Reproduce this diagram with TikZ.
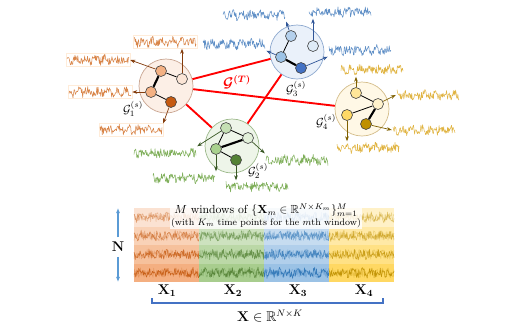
\documentclass[tikz,border=0pt]{standalone}
\usepackage{amssymb}
\usepackage{tikz}
\usetikzlibrary{arrows.meta,positioning,calc}
\definecolor{orpale}{HTML}{FBE5D6}
\definecolor{orlight}{HTML}{F4B183}
\definecolor{ordark}{HTML}{C55A11}
\definecolor{ortrace}{HTML}{D9864A}
\definecolor{orcirc}{HTML}{FCEFE6}
\definecolor{orring}{HTML}{C9A591}
\definecolor{orarrow}{HTML}{843C0C}
\definecolor{blpale}{HTML}{DEEBF7}
\definecolor{blmid}{HTML}{B4D0EC}
\definecolor{bllight}{HTML}{9DC3E6}
\definecolor{bldark}{HTML}{4472C4}
\definecolor{bltrace}{HTML}{5F8FC6}
\definecolor{blcirc}{HTML}{EAF1FA}
\definecolor{blring}{HTML}{8EA9CF}
\definecolor{blarrow}{HTML}{2F5597}
\definecolor{grpale}{HTML}{E2F0D9}
\definecolor{grmid}{HTML}{C5E0B4}
\definecolor{grlight}{HTML}{A9D18E}
\definecolor{grdark}{HTML}{548235}
\definecolor{grtrace}{HTML}{7FAF5A}
\definecolor{grcirc}{HTML}{EEF5E9}
\definecolor{grring}{HTML}{9CB98B}
\definecolor{grarrow}{HTML}{385723}
\definecolor{yepale}{HTML}{FFF2CC}
\definecolor{yemid}{HTML}{FFE699}
\definecolor{yelight}{HTML}{FFD966}
\definecolor{yedark}{HTML}{BF9000}
\definecolor{yetrace}{HTML}{E0B443}
\definecolor{yecirc}{HTML}{FFF8E6}
\definecolor{yering}{HTML}{D4BD8A}
\definecolor{yearrow}{HTML}{7F6000}
\definecolor{mor}{HTML}{ED7D31}
\definecolor{mgr}{HTML}{70AD47}
\definecolor{mbl}{HTML}{5B9BD5}
\definecolor{mye}{HTML}{FFC000}
\definecolor{mbldk}{HTML}{2E75B6}
\definecolor{nblue}{HTML}{5B9BD5}
\definecolor{brblue}{HTML}{4472C4}
\definecolor{tred}{HTML}{FF0000}

\begin{document}
\begin{tikzpicture}[x=0.03cm,y=-0.03cm,
  sgraph/.style={circle,minimum size=1.62cm,line width=0.6pt},
  vtx/.style={circle,draw=black!75,line width=0.5pt,minimum size=0.33cm,inner sep=0pt},
  thinedge/.style={line width=0.7pt},
  thickedge/.style={line width=1.8pt},
  tlink/.style={line width=1.6pt,color=tred},
  emit/.style={-{Stealth[length=1.5mm,width=1.1mm]},line width=0.6pt},
  sigbox/.style={rectangle,minimum width=1.92cm,minimum height=0.39cm,inner sep=0pt},
  trace/.style={line width=0.45pt,line join=round},
  glabel/.style={font=\normalsize,inner sep=0pt},
  xlab/.style={font=\large\boldmath},
  hdr/.style={fill=white,fill opacity=0.8,text opacity=1,align=center,inner sep=1pt},
  brk/.style={line width=0.9pt,color=brblue},
  narrow/.style={-{Latex[length=1.6mm]},line width=0.9pt,color=nblue}
]
\useasboundingbox (0,0) rectangle (514,327);
\pgfmathsetseed{11}

% signals around the spatial graphs
\foreach \nm/\cx/\cy in {o1/98/60,o2/165/42,o3/100/92,o4/131/130}{
  \node[sigbox,draw=orange!15] (\nm) at (\cx,\cy) {};
  \draw[trace,ortrace] plot[domain=-31:31,samples=110] ({\cx+\x},{\cy+4.3*rand+1.6*sin(37*\x)});
}
\foreach \nm/\cx/\cy in {b1/254/15,b2/340/12,b3/234/44,b4/360/50}{
  \node[sigbox] (\nm) at (\cx,\cy) {};
  \draw[trace,bltrace] plot[domain=-31:31,samples=110] ({\cx+\x},{\cy+4.3*rand+1.6*sin(37*\x)});
}
\foreach \nm/\cx/\cy in {y1/372/70,y2/428/95,y3/424/130,y4/368/148}{
  \node[sigbox] (\nm) at (\cx,\cy) {};
  \draw[trace,yetrace] plot[domain=-31:31,samples=110] ({\cx+\x},{\cy+4.3*rand+1.6*sin(37*\x)});
}
\foreach \nm/\cx/\cy in {g1/165/153,g2/184/178,g3/257/187,g4/297/160}{
  \node[sigbox] (\nm) at (\cx,\cy) {};
  \draw[trace,grtrace] plot[domain=-31:31,samples=110] ({\cx+\x},{\cy+4.3*rand+1.6*sin(37*\x)});
}

% spatial graphs
\node[sgraph,fill=orcirc,draw=orring] (gs1) at (166,86) {};
\node[sgraph,fill=grcirc,draw=grring] (gs2) at (232,146) {};
\node[sgraph,fill=blcirc,draw=blring] (gs3) at (297,52) {};
\node[sgraph,fill=yecirc,draw=yering] (gs4) at (362,109) {};

\node[vtx,fill=orlight] (n11) at (161,71) {};
\node[vtx,fill=orpale] (n12) at (182,79) {};
\node[vtx,fill=orlight] (n13) at (151,92) {};
\node[vtx,fill=ordark] (n14) at (171,102) {};
\draw[thinedge] (n11) -- (n12);
\draw[thickedge] (n11) -- (n13);
\draw[thinedge] (n13) -- (n14);
\draw[emit,orarrow] (n11) -- (o1.east);
\draw[emit,orarrow] (n12) -- (n12 |- o2.south);
\draw[emit,orarrow] (n13) -- (o3.east);
\draw[emit,orarrow] (n14) -- (o4.north east);

\node[vtx,fill=grmid] (n21) at (226,128) {};
\node[vtx,fill=grpale] (n22) at (248,138) {};
\node[vtx,fill=grlight] (n23) at (216,149) {};
\node[vtx,fill=grdark] (n24) at (236,160) {};
\draw[thinedge] (n21) -- (n22);
\draw[thinedge] (n21) -- (n23);
\draw[thickedge] (n23) -- (n22);
\draw[thinedge] (n23) -- (n24);
\draw[emit,grarrow] (n21) -- (g1.north east);
\draw[emit,grarrow] (n23) -- (n23 |- g2.north);
\draw[emit,grarrow] (n24) -- (n24 |- g3.north);
\draw[emit,grarrow] (n22) -- (g4.north west);

\node[vtx,fill=blmid] (n31) at (291,36) {};
\node[vtx,fill=blpale] (n32) at (313,46) {};
\node[vtx,fill=bllight] (n33) at (281,57) {};
\node[vtx,fill=bldark] (n34) at (301,68) {};
\draw[thinedge] (n31) -- (n33);
\draw[thickedge] (n33) -- (n34);
\draw[emit,blarrow] (n31) -- (b1.south east);
\draw[emit,blarrow] (n32) -- (n32 |- b2.south);
\draw[emit,blarrow] (n33) -- (b3.south east);
\draw[emit,blarrow] (n34) -- (b4.south west);

\node[vtx,fill=yemid] (n41) at (356,93) {};
\node[vtx,fill=yepale] (n42) at (378,104) {};
\node[vtx,fill=yelight] (n43) at (347,115) {};
\node[vtx,fill=yedark] (n44) at (366,124) {};
\draw[thinedge] (n41) -- (n42);
\draw[thinedge] (n42) -- (n43);
\draw[thickedge] (n42) -- (n44);
\draw[emit,yearrow] (n41) -- (n41 |- y1.south);
\draw[emit,yearrow] (n42) -- (y2.west);
\draw[emit,yearrow] (n44) -- (y3.west);
\draw[emit,yearrow] (n43) -- (n43 |- y4.north);

\node[glabel] (lab1) at (133,109) {$\mathcal{G}_1^{(s)}$};
\node[glabel] (lab2) at (258,171) {$\mathcal{G}_2^{(s)}$};
\node[glabel] (lab3) at (296,89) {$\mathcal{G}_3^{(s)}$};
\node[glabel] (lab4) at (326,122) {$\mathcal{G}_4^{(s)}$};

% temporal graph
\draw[tlink] (gs1) -- (gs3);
\draw[tlink] (gs1) -- (gs4);
\draw[tlink] (gs1) -- (gs2);
\draw[tlink] (gs2) -- (gs3);
\node[text=tred,font=\large\boldmath] (gt) at (237,82) {$\mathcal{G}^{(T)}$};

% windowed data matrix
\foreach \col/\dk [count=\i] in {mor/ordark,mgr/grdark,mbl/mbldk,mye/yedark}{
  \foreach \r in {0,...,3}{
    \pgfmathsetmacro\xa{134+(\i-1)*65}
    \pgfmathsetmacro\ya{208+\r*18.5}
    \pgfmathsetmacro\op{0.22+0.13*\r}
    \pgfmathsetmacro\opt{0.45+0.15*\r}
    \fill[\col,fill opacity=\op] (\xa,\ya) rectangle ++(65,18.5);
    \draw[trace,\dk,opacity=0.3] plot[domain=0:65,samples=110] ({\xa+\x},{\ya+9.25+5*rand});
    \draw[trace,\dk,opacity=\opt] plot[domain=0:65,samples=110] ({\xa+\x},{\ya+9.25+4.3*rand+1.5*sin(41*\x)});
  }
}
\node[minimum width=7.8cm,minimum height=2.22cm,inner sep=0pt] (mat) at (264,245) {};
\node[hdr] (hdr) at (266,216) {$M$ windows of $\{\mathbf{X}_m\in\mathbb{R}^{N\times K_m}\}_{m=1}^{M}$\\[-2pt]{\footnotesize (with $K_m$ time points for the $m$th window)}};

\node[font=\large\bfseries,inner sep=4pt] (nlab) at (118,247) {N};
\draw[narrow] (nlab.north) -- (nlab |- mat.north);
\draw[narrow] (nlab.south) -- (nlab |- mat.south);

\node[xlab] (xl1) at (167,291) {$\mathbf{X}_1$};
\node[xlab] (xl2) at (233,291) {$\mathbf{X}_2$};
\node[xlab] (xl3) at (298,291) {$\mathbf{X}_3$};
\node[xlab] (xl4) at (364,291) {$\mathbf{X}_4$};
\coordinate (brl) at (152,303);
\coordinate (brr) at (383,303);
\draw[brk] ($(brl)+(0,-5)$) -- (brl) -- (brr) -- ($(brr)+(0,-5)$);
\node[font=\large] (xall) at (270,316) {$\mathbf{X}\in\mathbb{R}^{N\times K}$};
\end{tikzpicture}
\end{document}
